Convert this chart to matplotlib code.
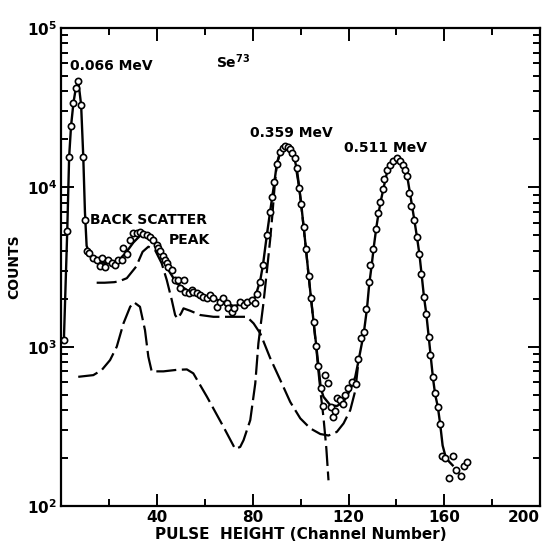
import matplotlib
matplotlib.use("Agg")
import matplotlib.pyplot as plt
from matplotlib.ticker import FixedLocator, NullFormatter

# --- measured counts (open circles) ---
pts_x = [1.0, 2.4, 3.2, 3.9, 5.0, 6.0, 7.0, 8.2, 9.1, 9.8, 10.8, 11.7,
         13.3, 14.7, 16.1, 16.8, 18.2, 19.6, 21.0, 22.4, 23.8, 25.2, 25.9, 27.3,
         28.7, 30.0, 31.5, 32.8, 34.2, 35.6, 37.0, 38.4, 39.8, 40.5, 41.2, 42.6,
         43.3, 44.0, 44.7, 46.1, 47.5, 48.9, 49.6, 51.0, 51.7, 53.1, 54.5, 55.1,
         56.6, 58.0, 59.3, 60.8, 62.1, 63.5, 64.9, 66.3, 67.7, 69.1, 69.8, 71.2,
         71.9, 74.7, 76.1, 77.5, 79.6, 81.0, 81.8, 83.1, 84.2, 85.9, 87.2, 88.1,
         89.0, 90.0, 91.4, 92.5, 93.5, 94.5, 95.6, 96.3, 97.4, 98.4, 99.4, 100.2,
         101.2, 102.2, 103.3, 104.3, 105.4, 106.5, 107.4, 108.4, 109.1, 110.3, 111.4, 112.6,
         113.4, 114.4, 115.3, 116.5, 117.7, 118.7, 119.8, 121.3, 122.9, 123.9, 125.3, 126.3,
         127.4, 128.4, 129.1, 130.2, 131.3, 132.1, 133.0, 134.2, 134.9, 136.2, 137.4, 138.6,
         140.1, 141.6, 142.7, 143.6, 144.4, 145.4, 146.2, 147.2, 148.6, 149.6, 150.4, 151.4,
         152.5, 153.5, 154.2, 155.1, 156.0, 157.4, 158.2, 159.1, 160.1, 161.8, 163.7, 165.1,
         167.0, 168.1, 169.5]
pts_y = [1100, 5300, 15600, 24300, 34000, 42000, 46700, 33000, 15600, 6200, 4000, 3850,
         3580, 3500, 3210, 3580, 3150, 3500, 3330, 3250, 3500, 3500, 4140, 3810,
         4670, 5140, 5140, 5220, 5100, 5020, 4900, 4670, 4340, 4140, 4000, 3710,
         3500, 3330, 3150, 3030, 2620, 2620, 2320, 2640, 2210, 2160, 2270, 2210,
         2180, 2110, 2060, 2010, 2110, 2010, 1780, 1910, 2010, 1870, 1740, 1660,
         1740, 1910, 1820, 1910, 1960, 1890, 2150, 2550, 3250, 5020, 7030, 8730,
         10800, 14100, 16700, 17600, 18300, 18000, 17300, 16500, 15200, 13200, 9870, 7850,
         5660, 4100, 2790, 2010, 1420, 1010, 759, 547, 424, 663, 589, 416,
         360, 394, 478, 460, 436, 500, 547, 600, 582, 832, 1130, 1240,
         1720, 2550, 3250, 4100, 5450, 6930, 8060, 9750, 11300, 12800, 13900, 14700,
         15200, 14700, 13900, 12900, 11800, 9160, 7630, 6240, 4860, 3810, 2860, 2060,
         1600, 1150, 885, 641, 509, 420, 325, 205, 200, 150, 205, 168,
         155, 178, 188]

# --- solid curve drawn through the data ---
fit_x = [1.0, 2.4, 3.2, 4.0, 5.0, 6.0, 7.0, 8.2, 9.1, 9.8, 10.5, 12.0,
         15.0, 18.0, 21.0, 24.0, 27.0, 30.0, 33.0, 35.0, 37.0, 39.0, 41.2, 44.0,
         48.2, 52.4, 58.0, 63.5, 69.1, 71.9, 76.1, 80.3, 81.9, 83.1, 84.2, 85.9,
         87.2, 88.1, 89.0, 90.0, 91.4, 92.5, 93.7, 95.0, 96.3, 97.4, 98.4, 99.4,
         100.2, 101.2, 102.2, 103.3, 104.3, 105.4, 106.5, 107.4, 108.4, 109.5, 112.3, 115.1,
         117.9, 120.7, 122.8, 124.2, 125.6, 126.6, 127.7, 128.6, 129.6, 130.6, 131.6, 132.6,
         133.6, 134.8, 136.2, 137.6, 139.0, 140.2, 141.6, 142.8, 143.8, 144.6, 145.6, 146.5,
         147.5, 148.6, 149.6, 150.5, 151.5, 152.5, 153.5, 154.4, 155.3, 156.2, 157.3, 158.3,
         159.3, 160.5, 162.0, 163.5]
fit_y = [1100, 5300, 15600, 24300, 34000, 42000, 46700, 33000, 15600, 7000, 4300, 3700,
         3450, 3350, 3350, 3500, 3900, 4500, 5000, 5100, 4900, 4500, 4000, 3150,
         2490, 2270, 2110, 2010, 1870, 1800, 1850, 1960, 2280, 2620, 3250, 5100,
         7030, 8730, 10800, 14100, 16700, 17700, 18200, 17700, 16500, 15000, 13000, 9870,
         7850, 5660, 4100, 2790, 2010, 1420, 1010, 759, 547, 485, 430, 424,
         451, 535, 647, 824, 1060, 1300, 1740, 2450, 3200, 4300, 5600, 7000,
         8400, 10200, 12700, 14200, 15000, 15200, 14800, 13900, 12800, 11500, 9300, 7700,
         6200, 4860, 3810, 2860, 2060, 1600, 1150, 850, 630, 500, 420, 325,
         240, 205, 190, 180]

# --- dashed component curves ---
comp_a_x = [14.7, 18.0, 22.0, 24.0, 27.3, 31.2, 33.9, 36.3, 39.1, 41.9, 44.0, 46.1,
            47.5, 48.5, 50.0, 51.0, 53.8, 58.0, 63.5, 71.9, 77.5, 80.3, 83.1, 87.2,
            91.4, 95.6, 99.8, 104.0, 108.2, 111.6, 115.1, 117.9, 120.7, 122.8, 124.2]
comp_a_y = [2520, 2520, 2540, 2570, 2690, 3180, 3940, 4240, 4040, 3330, 2620, 1960,
            1580, 1500, 1620, 1740, 1680, 1580, 1540, 1540, 1540, 1400, 1210, 850,
            620, 450, 355, 307, 283, 277, 292, 330, 400, 530, 824]

comp_b_x = [7.0, 13.3, 16.8, 20.3, 23.1, 25.9, 28.7, 30.3, 32.8, 34.9, 36.3, 37.7,
            42.6, 48.0, 52.4, 55.1, 60.8, 67.7, 72.6, 74.7, 76.1, 78.9, 81.0, 82.3,
            84.4, 85.9, 87.2, 88.1, 89.0, 90.0, 91.7, 93.5, 95.6, 97.4, 99.4, 101.2,
            103.3, 105.4, 106.5, 107.4, 108.4, 109.5, 110.7, 111.6]
comp_b_y = [647, 663, 713, 824, 1000, 1400, 1780, 1900, 1780, 1270, 865, 700,
            700, 715, 720, 680, 485, 314, 228, 235, 259, 346, 589, 1050,
            1870, 3030, 4670, 6600, 9800, 14000, 17000, 18000, 17300, 15000, 9870, 5660,
            2790, 1400, 980, 700, 500, 360, 230, 145]

plt.rcParams['font.family'] = ['DejaVu Sans']
plt.rcParams['mathtext.fontset'] = 'dejavusans'

fig = plt.figure(figsize=(5.54, 5.48), dpi=100)
ax = fig.add_axes([0.111, 0.0766, 0.8637, 0.8723])

ax.plot(fit_x, fit_y, color="black", lw=1.7, zorder=2)
for cx, cy in [(comp_a_x, comp_a_y), (comp_b_x, comp_b_y)]:
    line, = ax.plot(cx, cy, color="black", lw=1.6, zorder=1)
    line.set_dashes((9, 2.5))
ax.plot(pts_x, pts_y, "o", ms=4.5, mfc="white", mec="black", mew=1.2, zorder=3)

ax.set_yscale("log")
ax.set_xlim(0, 200)
ax.set_ylim(100, 100000)

ax.xaxis.set_major_locator(FixedLocator([40, 80, 120, 160, 200]))
ax.xaxis.set_minor_locator(FixedLocator([20, 60, 100, 140, 180]))
ax.set_xticklabels(["40", "80", "120", "160", "200"])
ax.yaxis.set_major_locator(FixedLocator([1e2, 1e3, 1e4, 1e5]))
ax.yaxis.set_minor_locator(FixedLocator([m * 10 ** e for e in (2, 3, 4) for m in range(2, 10)]))
ax.yaxis.set_minor_formatter(NullFormatter())
ax.set_yticklabels([r"$\mathbf{10^{2}}$", r"$\mathbf{10^{3}}$", r"$\mathbf{10^{4}}$", r"$\mathbf{10^{5}}$"])

ax.tick_params(which="both", direction="in", top=True, right=True, width=1.4,
               labelsize=11)
ax.tick_params(which="major", length=9, pad=3)
ax.tick_params(which="minor", length=5)
for lab in ax.get_xticklabels():
    lab.set_fontweight("bold")
ax.get_xticklabels()[-1].set_horizontalalignment("right")
ax.get_xticklabels()[-1].set_x(200)
for s in ax.spines.values():
    s.set_linewidth(1.6)

ax.set_xlabel("PULSE  HEIGHT (Channel Number)", fontsize=11, fontweight="bold", labelpad=1)
ax.set_ylabel("COUNTS", fontsize=10, fontweight="bold", labelpad=4)

kw = dict(fontsize=10, fontweight="bold")
ax.text(3.5, 57700, "0.066 MeV", ha="left", va="center", **kw)
ax.text(64.6, 61200, r"Se$^{\mathbf{73}}$", ha="left", va="center", **kw)
ax.text(96, 21900, "0.359 MeV", ha="center", va="center", **kw)
ax.text(135.4, 17700, "0.511 MeV", ha="center", va="center", **kw)
ax.text(11.9, 6230, "BACK SCATTER", ha="left", va="center", **kw)
ax.text(62.1, 4670, "PEAK", ha="right", va="center", **kw)

fig.savefig("out.png", dpi=100)
